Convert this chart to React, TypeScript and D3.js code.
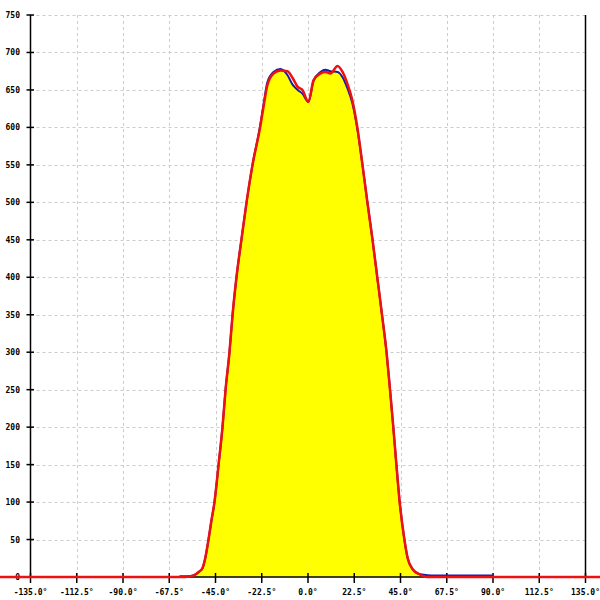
import React from "react";
import * as d3 from "d3";

const angles = [-180, -62.5, -60, -57, -55, -53, -51.3, -50, -48.4, -47, -45.5, -43.5, -41.6, -40.1, -38.2, -36.7, -34.8, -32.4, -29.9, -27, -23.3, -21.5, -19.8, -16.8, -13.4, -10, -7.5, -5, -2.7, 0.2, 2.7, 6.1, 8.5, 10.9, 14.4, 16.8, 19.2, 21.6, 24, 26.5, 28.9, 31.4, 33.7, 36, 38.2, 39.9, 41.5, 43, 44.6, 46.9, 48.5, 51, 54, 58, 62, 90, 180];

const redValues = [0, 0, 0, 1, 3, 7, 12, 25, 50, 75, 100, 150, 200, 250, 300, 350, 400, 450, 500, 550, 600, 630, 656, 672, 676, 675, 666, 654, 650, 634, 663, 672, 674, 672, 682, 674, 658, 636, 600, 550, 500, 450, 400, 350, 300, 250, 200, 150, 100, 50, 25, 10, 4, 0, 0, 0, 0];

const blueValues: (number | null)[] = [null, 1, 1, 1.5, 3, 7, 12, 25, 50, 75, 100, 150, 200, 250, 300, 350, 400, 450, 500, 550, 602, 633, 660, 674, 678, 670, 657, 650, 645, 634, 662, 674, 677, 675, 674, 667, 652, 632, 598, 550, 500, 450, 400, 350, 300, 250, 200, 150, 100, 50, 25, 10, 4, 2.5, 2, 2, null];

const fillValues: (number | null)[] = [null, null, null, null, 3, 7, 12, 25, 50, 75, 100, 150, 200, 250, 300, 350, 400, 450, 500, 550, 602, 633, 660, 674, 678, 670, 657, 650, 645, 634, 662, 674, 677, 675, 674, 667, 652, 632, 598, 550, 500, 450, 400, 350, 300, 250, 200, 150, 100, 50, 25, 10, 4, 1, null, null, null];

const xTicks = [-135, -112.5, -90, -67.5, -45, -22.5, 0, 22.5, 45, 67.5, 90, 112.5, 135];
const yTicks = [0, 50, 100, 150, 200, 250, 300, 350, 400, 450, 500, 550, 600, 650, 700, 750];

export default function App() {
  const W = 600, H = 600;
  const x = d3.scaleLinear().domain([-135, 135]).range([30.5, 585.5]);
  const y = d3.scaleLinear().domain([0, 750]).range([577, 15]);

  type P = { a: number; v: number | null };
  const mk = (vals: (number | null)[]): P[] => angles.map((a, i) => ({ a, v: vals[i] }));

  const line = d3
    .line<P>()
    .defined((d) => d.v !== null)
    .x((d) => x(d.a))
    .y((d) => y(d.v as number))
    .curve(d3.curveMonotoneX);

  const area = d3
    .area<P>()
    .defined((d) => d.v !== null)
    .x((d) => x(d.a))
    .y0(y(0))
    .y1((d) => y(d.v as number))
    .curve(d3.curveMonotoneX);

  const font = "'DejaVu Sans Mono', monospace";

  return (
    <div style={{ position: "fixed", left: 0, top: 0, width: W, height: H, background: "#fff" }}>
      <svg width={W} height={H} style={{ display: "block" }}>
        <rect x={0} y={0} width={W} height={H} fill="#fff" />
        {yTicks.filter((t) => t > 0).map((t) => (
          <line key={"gy" + t} x1={x(-135)} x2={x(135)} y1={Math.round(y(t)) + 0.5} y2={Math.round(y(t)) + 0.5}
            stroke="#cccccc" strokeWidth={1} strokeDasharray="3,3" />
        ))}
        {xTicks.filter((t) => t > -135 && t < 135).map((t) => (
          <line key={"gx" + t} x1={Math.round(x(t)) + 0.5} x2={Math.round(x(t)) + 0.5} y1={y(750)} y2={y(0)}
            stroke="#cccccc" strokeWidth={1} strokeDasharray="3,3" />
        ))}
        <path d={area(mk(fillValues)) || ""} fill="#ffff00" stroke="none" />
        <line x1={x(-135)} x2={x(-135)} y1={y(750)} y2={y(0)} stroke="#000" strokeWidth={1.5} />
        <line x1={x(135)} x2={x(135)} y1={y(750)} y2={y(0)} stroke="#000" strokeWidth={1.5} />
        <line x1={0} x2={W} y1={y(0)} y2={y(0)} stroke="#000" strokeWidth={1.5} />
        {yTicks.map((t) => (
          <g key={"ty" + t}>
            <line x1={x(-135) - 4} x2={x(-135) + 3.5} y1={y(t)} y2={y(t)} stroke="#000" strokeWidth={1.5} />
            <text x={20} y={y(t) + 3} textAnchor="end" fontFamily={font} fontSize={8} fontWeight="bold" fill="#000">{t}</text>
          </g>
        ))}
        {xTicks.map((t) => (
          <g key={"tx" + t}>
            <line x1={x(t)} x2={x(t)} y1={y(0) - 4} y2={y(0) + 6} stroke="#000" strokeWidth={1.5} />
            <text x={x(t)} y={595} textAnchor="middle" fontFamily={font} fontSize={8} fontWeight="bold" fill="#000">{t.toFixed(1) + "°"}</text>
          </g>
        ))}
        <path d={line(mk(blueValues)) || ""} fill="none" stroke="#1a1aa8" strokeWidth={2} strokeLinejoin="round" />
        <path d={line(mk(redValues)) || ""} fill="none" stroke="#ee1111" strokeWidth={2.5} strokeLinejoin="round" />
      </svg>
    </div>
  );
}
